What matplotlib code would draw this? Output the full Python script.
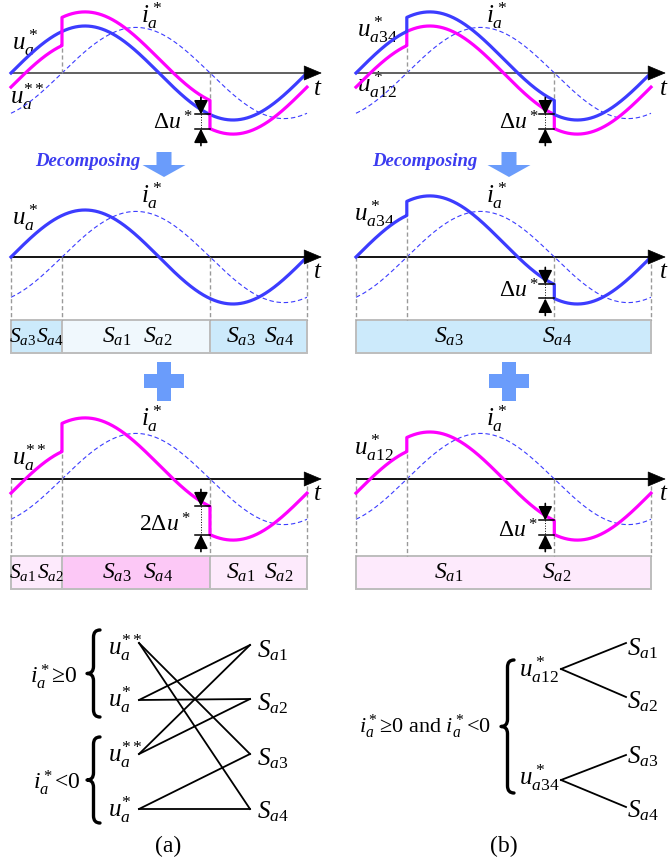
import numpy as np
import matplotlib
matplotlib.use('Agg')
import matplotlib.pyplot as plt
from matplotlib.patches import Rectangle, FancyArrow, PathPatch
from matplotlib.path import Path

plt.rcParams['font.family'] = ['Liberation Serif', 'DejaVu Serif']
plt.rcParams['mathtext.fontset'] = 'custom'
plt.rcParams['mathtext.rm'] = 'Liberation Serif'
plt.rcParams['mathtext.it'] = 'Liberation Serif:italic'
plt.rcParams['mathtext.bf'] = 'Liberation Serif:bold'

# ---------------- data ----------------
phase_deg = np.linspace(0, 360, 721)        # one period of the reference
u_amp = 1.0                                 # amplitude of u_a*
i_amp = 0.97                                # amplitude of i_a*
i_lag_deg = 62.0                            # lag of i_a* behind u_a*
delta_u = 0.30                              # step Δu*
switch_deg = [0.0, i_lag_deg, i_lag_deg + 180.0, 360.0]   # interval bounds
i_sign = [-1, 1, -1]                        # sign of i_a* in each interval

box_a_row2_labels = [["S_{a3}", "S_{a4}"], ["S_{a1}", "S_{a2}"], ["S_{a3}", "S_{a4}"]]
box_a_row3_labels = [["S_{a1}", "S_{a2}"], ["S_{a3}", "S_{a4}"], ["S_{a1}", "S_{a2}"]]
box_b_row2_labels = [["S_{a3}", "S_{a4}"]]
box_b_row3_labels = [["S_{a1}", "S_{a2}"]]

map_a_left = [r'$u_a^{**}$', r'$u_a^{*}$', r'$u_a^{**}$', r'$u_a^{*}$']
map_a_groups = [r'$i_a^*$≥0', r'$i_a^*$<0']
map_right = [r'$S_{a1}$', r'$S_{a2}$', r'$S_{a3}$', r'$S_{a4}$']
map_a_edges = [(0, 2), (0, 3), (1, 0), (1, 1), (2, 0), (2, 1), (3, 2), (3, 3)]
map_b_left = [r'$u_{a12}^*$', r'$u_{a34}^*$']
map_b_group = r'$i_a^*$≥0 and $i_a^*$<0'
map_b_edges = [(0, 0), (0, 1), (1, 2), (1, 3)]

# ---------------- style ----------------
W, H = 668, 860
PXU = 47.0                  # pixels per unit amplitude
BLUE = '#3c3cff'
MAG = '#ff00ff'
ARROWC = '#6a9cfb'
GREY = '#999999'
LB = '#cceafb'
VLB = '#f0f8fd'
PK = '#fcc8f6'
LPK = '#fdeafc'
FS = 18

fig = plt.figure(figsize=(W / 100, H / 100), dpi=100)
ov = fig.add_axes([0, 0, 1, 1])
ov.set_xlim(0, W)
ov.set_ylim(H, 0)
ov.axis('off')


def T(x, y, s, size=FS, ha='left', va='baseline', **kw):
    ov.text(x, y, s, fontsize=size, ha=ha, va=va, **kw)


def wave_ax(x0, yax, width=296):
    top, bot = yax - 95, yax + 125
    ax = fig.add_axes([x0 / W, 1 - bot / H, width / W, (bot - top) / H])
    ax.set_xlim(0, 360)
    ax.set_ylim(-125 / PXU, 95 / PXU)
    ax.axis('off')
    return ax


def piecewise(offset):
    xs, ys = [], []
    for k in range(3):
        a, b = switch_deg[k], switch_deg[k + 1]
        th = np.concatenate([[a], phase_deg[(phase_deg > a) & (phase_deg < b)], [b]])
        xs.append(th)
        ys.append(u_amp * np.sin(np.radians(th)) + offset(i_sign[k]))
    return np.concatenate(xs), np.concatenate(ys)


def u_at(th):
    return u_amp * np.sin(np.radians(th))


curves = {
    'u': piecewise(lambda s: 0.0),
    'udd': piecewise(lambda s: delta_u * s),
    'u34': piecewise(lambda s: delta_u * (s > 0)),
    'u12': piecewise(lambda s: -delta_u * (s < 0)),
}
i_curve = i_amp * np.sin(np.radians(phase_deg - i_lag_deg))


def draw_axis(ax, color, lw):
    ax.plot([0, 366], [0, 0], color=color, lw=lw, clip_on=False, solid_capstyle='butt')
    ax.annotate('', xy=(378, 0), xytext=(364, 0), annotation_clip=False,
                arrowprops=dict(arrowstyle='-|>,head_length=1.0,head_width=0.42',
                                mutation_scale=12, color='k', lw=0.5,
                                shrinkA=0, shrinkB=0))


def draw_i(ax):
    ax.plot(phase_deg, i_curve, color=BLUE, lw=0.8, dashes=(4, 2.5), clip_on=False)


def vdash(ax, th, y0, y1):
    ax.plot([th, th], [y0, y1], color=GREY, lw=1.0, dashes=(3, 2), clip_on=False)


def delta_marker(ax, thj, yhi, ylo):
    tha = thj - 11
    L = 17 / PXU
    ap = dict(arrowstyle='-|>,head_length=0.85,head_width=0.42', mutation_scale=10,
              color='k', lw=1.2, shrinkA=0, shrinkB=0)
    ax.annotate('', xy=(tha, yhi), xytext=(tha, yhi + L), arrowprops=ap, annotation_clip=False)
    ax.annotate('', xy=(tha, ylo), xytext=(tha, ylo - L), arrowprops=ap, annotation_clip=False)
    for yy in (yhi, ylo):
        ax.plot([tha - 7.5, thj], [yy, yy], color='k', lw=1.1, clip_on=False)
    ax.plot([tha, tha], [yhi, ylo], color='k', lw=0.7, ls=':', clip_on=False)


def draw_box(ax, ytop, ybot, colors, labels, fracs):
    for k, (c, labs, fr) in enumerate(zip(colors, labels, fracs)):
        if len(colors) == 1:
            a, b = switch_deg[0], switch_deg[-1]
        else:
            a, b = switch_deg[k], switch_deg[k + 1]
        size = 15.5 if (b - a) < 90 else 17
        ax.add_patch(Rectangle((a, ybot), b - a, ytop - ybot, facecolor=c,
                               edgecolor='#bdbdbd', lw=1.4, clip_on=False))
        for lab, f in zip(labs, fr):
            ax.text(a + f * (b - a), (ytop + ybot) / 2, '$' + lab + '$', fontsize=size,
                    ha='center', va='center')


jumps = [switch_deg[1], switch_deg[2]]
LW = 2.3
NARROW = [0.23, 0.77]

# ============ column (a) ============
XA, XB = 11, 356
# row 1
ax = wave_ax(XA, 73)
draw_axis(ax, '#606060', 1.4)
draw_i(ax)
vdash(ax, jumps[0], 0, u_at(jumps[0]) - delta_u)
vdash(ax, jumps[1], 0, u_at(jumps[1]) + delta_u)
ax.plot(*curves['u'], color=BLUE, lw=LW, clip_on=False)
ax.plot(*curves['udd'], color=MAG, lw=LW, clip_on=False)
delta_marker(ax, jumps[1], u_at(jumps[1]), u_at(jumps[1]) - delta_u)

# row 2
ax = wave_ax(XA, 257)
draw_axis(ax, 'k', 1.3)
draw_i(ax)
for th in switch_deg:
    vdash(ax, th, 0, -63 / PXU)
ax.plot(*curves['u'], color=BLUE, lw=LW, clip_on=False)
draw_box(ax, -63 / PXU, -96 / PXU, [LB, VLB, LB], box_a_row2_labels,
         [NARROW, [0.37, 0.65], [0.32, 0.71]])

# row 3
ax = wave_ax(XA, 479)
draw_axis(ax, 'k', 1.3)
draw_i(ax)
for th in switch_deg:
    vdash(ax, th, 0, -77 / PXU)
vdash(ax, jumps[0], 0, u_at(jumps[0]) - delta_u)
ax.plot(*curves['udd'], color=MAG, lw=LW, clip_on=False)
delta_marker(ax, jumps[1], u_at(jumps[1]) + delta_u, u_at(jumps[1]) - delta_u)
draw_box(ax, -77 / PXU, -110 / PXU, [LPK, PK, LPK], box_a_row3_labels,
         [NARROW, [0.37, 0.65], [0.32, 0.71]])

# ============ column (b) ============
ax = wave_ax(XB, 73, 295)
draw_axis(ax, '#606060', 1.4)
draw_i(ax)
vdash(ax, jumps[0], 0, u_at(jumps[0]) - delta_u)
vdash(ax, jumps[1], 0, u_at(jumps[1]) + delta_u)
ax.plot(*curves['u12'], color=MAG, lw=LW, clip_on=False)
ax.plot(*curves['u34'], color=BLUE, lw=LW, clip_on=False)
delta_marker(ax, jumps[1], u_at(jumps[1]), u_at(jumps[1]) - delta_u)

ax = wave_ax(XB, 257, 295)
draw_axis(ax, 'k', 1.3)
draw_i(ax)
for th in switch_deg:
    vdash(ax, th, 0, -63 / PXU)
vdash(ax, jumps[0], 0, u_at(jumps[0]))
ax.plot(*curves['u34'], color=BLUE, lw=LW, clip_on=False)
delta_marker(ax, jumps[1], u_at(jumps[1]) + delta_u, u_at(jumps[1]))
draw_box(ax, -63 / PXU, -96 / PXU, [LB], box_b_row2_labels, [[0.315, 0.68]])

ax = wave_ax(XB, 479, 295)
draw_axis(ax, 'k', 1.3)
draw_i(ax)
for th in switch_deg:
    vdash(ax, th, 0, -77 / PXU)
vdash(ax, jumps[0], 0, u_at(jumps[0]) - delta_u)
ax.plot(*curves['u12'], color=MAG, lw=LW, clip_on=False)
delta_marker(ax, jumps[1], u_at(jumps[1]), u_at(jumps[1]) - delta_u)
draw_box(ax, -77 / PXU, -110 / PXU, [LPK], box_b_row3_labels, [[0.315, 0.68]])

# ---------------- labels on waveforms ----------------
# (a)
T(12, 50, r'$u_a^*$')
T(10, 104, r'$u_a^{**}$')
T(141, 23, r'$i_a^*$')
T(313, 95, r'$t$')
T(153, 130, r'$\Delta u^*$', size=17)
T(12, 225, r'$u_a^*$')
T(141, 203, r'$i_a^*$')
T(313, 278, r'$t$')
T(12, 465, r'$u_a^{**}$')
T(141, 426, r'$i_a^*$')
T(313, 500, r'$t$')
T(139, 532, r'$2\Delta u^*$', size=17)
# (b)
T(357, 37, r'$u_{a34}^*$')
T(357, 92, r'$u_{a12}^*$')
T(486, 23, r'$i_a^*$')
T(659, 95, r'$t$')
T(499, 130, r'$\Delta u^*$', size=17)
T(354, 221, r'$u_{a34}^*$')
T(486, 203, r'$i_a^*$')
T(659, 278, r'$t$')
T(499, 297, r'$\Delta u^*$', size=17)
T(354, 455, r'$u_{a12}^*$')
T(486, 426, r'$i_a^*$')
T(659, 500, r'$t$')
T(498, 537, r'$\Delta u^*$', size=17)

# ---------------- decomposing arrows / plus signs ----------------
for xc, xt in [(164, 35), (509, 372)]:
    T(xt, 166, 'Decomposing', size=13.5, color='#3c3cf0', fontweight='bold', fontstyle='italic')
    ov.add_patch(FancyArrow(xc, 152, 0, 25, width=15, head_width=43, head_length=12,
                            length_includes_head=True, color=ARROWC, lw=0))
    ov.add_patch(Rectangle((xc - 20, 374), 40, 14, color=ARROWC, lw=0))
    ov.add_patch(Rectangle((xc - 7, 362), 14, 39, color=ARROWC, lw=0))


# ---------------- mapping diagrams ----------------
def brace(xr, y0, y1, w=13, lw=2.4):
    xm = xr - w * 0.5
    xt = xr - w
    ym = (y0 + y1) / 2
    c = w * 0.55
    verts = [(xr, y0), (xm, y0), (xm, y0 + c), (xm, ym - c), (xm, ym), (xt, ym),
             (xm, ym), (xm, ym + c), (xm, y1 - c), (xm, y1), (xr, y1)]
    codes = [Path.MOVETO, Path.CURVE3, Path.CURVE3, Path.LINETO, Path.CURVE3, Path.CURVE3,
             Path.CURVE3, Path.CURVE3, Path.LINETO, Path.CURVE3, Path.CURVE3]
    ov.add_patch(PathPatch(Path(verts, codes), fill=False, lw=lw, color='k',
                           capstyle='round', joinstyle='round'))


# (a)
la_y = [643, 700, 754, 809]
la_base = [655, 707, 762, 817]
ra_y = [645, 699, 754, 809]
ra_base = [657, 710, 765, 818]
for s, yb in zip(map_a_left, la_base):
    T(108, yb, s)
for s, yb in zip(map_right, ra_base):
    T(257, yb, s)
for l, r in map_a_edges:
    ov.plot([139, 250], [la_y[l], ra_y[r]], color='k', lw=1.3)
brace(100, 630, 717)
brace(100, 737, 823)
T(30, 683, map_a_groups[0], size=17)
T(33, 789, map_a_groups[1], size=17)
T(168, 852, '(a)', ha='center', size=17)

# (b)
lb_y = [669, 780]
lb_base = [677, 785]
rb_y = [643, 697, 755, 807]
rb_base = [655, 708, 763, 817]
for s, yb in zip(map_b_left, lb_base):
    T(519, yb, s)
for s, yb in zip(map_right, rb_base):
    T(627, yb, s)
for l, r in map_b_edges:
    ov.plot([561, 626], [lb_y[l], rb_y[r]], color='k', lw=1.3)
brace(514, 660, 793)
T(359, 733, map_b_group, size=16)
T(504, 852, '(b)', ha='center', size=17)

fig.savefig('out.png', dpi=100)
